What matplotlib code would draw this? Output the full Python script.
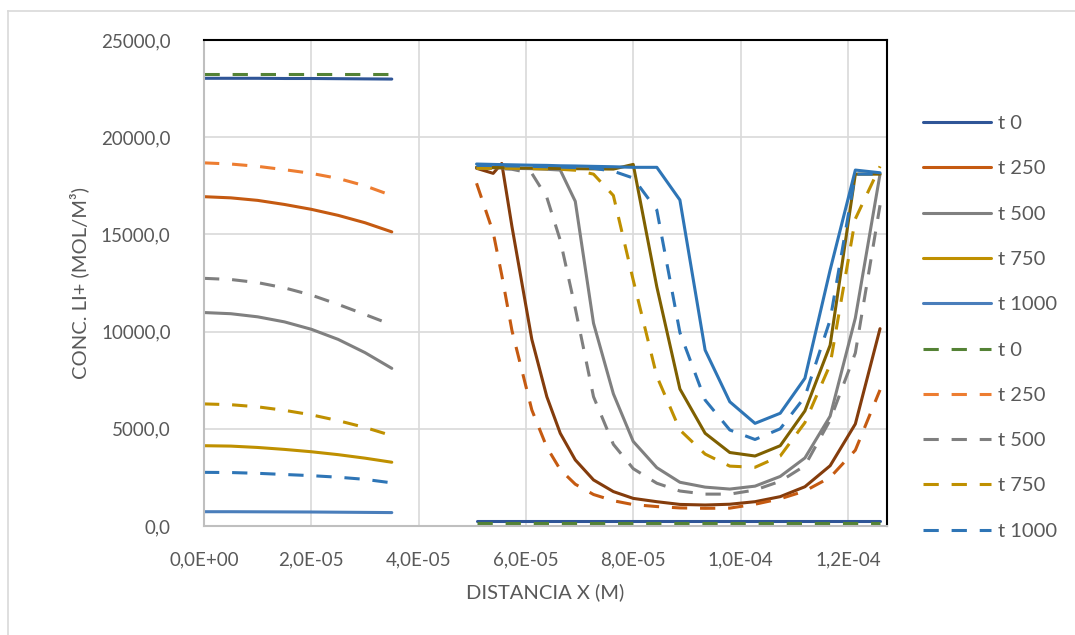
import matplotlib
matplotlib.use("Agg")
import matplotlib.pyplot as plt
from matplotlib.lines import Line2D
from matplotlib.ticker import FuncFormatter, MultipleLocator

plt.rcParams['font.family'] = ['Lato', 'DejaVu Sans']

# tiempos
labels = ["t 0", "t 250", "t 500", "t 750", "t 1000"]

# zona izquierda (0 - 3.5E-05 m)
x_izq = [0.0, 0.5e-5, 1.0e-5, 1.5e-5, 2.0e-5, 2.5e-5, 3.0e-5, 3.5e-5]
izq_sol = [
    [23030, 23030, 23030, 23020, 23020, 23010, 23000, 22990],
    [16940, 16880, 16750, 16540, 16290, 15980, 15600, 15130],
    [10980, 10920, 10760, 10500, 10120, 9600, 8920, 8110],
    [4130, 4110, 4040, 3940, 3820, 3670, 3490, 3280],
    [735, 735, 730, 725, 720, 710, 700, 690],
]
izq_dash = [
    [23230, 23230, 23230, 23230, 23230, 23230, 23230, 23230],
    [18680, 18620, 18500, 18330, 18140, 17880, 17500, 17000],
    [12740, 12680, 12520, 12250, 11880, 11400, 10880, 10350],
    [6280, 6240, 6130, 5950, 5720, 5420, 5070, 4650],
    [2760, 2750, 2710, 2650, 2590, 2510, 2400, 2220],
]

# zona derecha (5.1E-05 - 1.26E-04 m)
x_der = [5.08e-5, 5.39e-5, 5.55e-5, 5.74e-5, 6.11e-5, 6.39e-5, 6.64e-5,
         6.92e-5, 7.26e-5, 7.63e-5, 8.00e-5, 8.44e-5, 8.87e-5, 9.34e-5,
         9.80e-5, 10.27e-5, 10.74e-5, 11.20e-5, 11.67e-5, 12.14e-5, 12.60e-5]
der_sol = [
    [280, 280, 280, 280, 280, 280, 280, 280, 280, 280, 280,
     280, 280, 280, 280, 280, 280, 280, 280, 280, 280],
    [18400, 18140, 18650, 15400, 9600, 6650, 4770, 3400, 2370, 1770, 1420,
     1250, 1110, 1080, 1120, 1250, 1510, 2020, 3100, 5250, 10150],
    [18450, 18430, 18420, 18400, 18380, 18350, 18310, 16700, 10430, 6800, 4350,
     3000, 2250, 2000, 1900, 2050, 2550, 3500, 5650, 10700, 18100],
    [18450, 18440, 18430, 18420, 18410, 18400, 18390, 18380, 18370, 18360, 18600,
     12300, 7050, 4770, 3780, 3600, 4130, 5920, 9300, 18100, 18100],
    [18620, 18600, 18590, 18580, 18560, 18550, 18530, 18520, 18500, 18480, 18450,
     18450, 16770, 9050, 6390, 5280, 5800, 7600, 13170, 18310, 18170],
]
der_dash = [
    [170, 170, 170, 170, 170, 170, 170, 170, 170, 170, 170,
     170, 170, 170, 170, 170, 170, 170, 170, 170, 170],
    [17630, 15100, 12900, 10050, 5970, 4050, 2900, 2150, 1620, 1300, 1100,
     1000, 930, 910, 920, 1120, 1400, 1800, 2500, 3900, 7000],
    [18400, 18400, 18380, 18350, 18140, 16900, 14700, 11200, 6650, 4200, 2950,
     2200, 1800, 1640, 1640, 1850, 2300, 3100, 5450, 8900, 16500],
    [18400, 18400, 18400, 18400, 18380, 18370, 18350, 18300, 18100, 17000, 12650,
     7700, 4940, 3700, 3080, 3020, 3600, 5320, 8300, 15800, 18500],
    [18550, 18540, 18530, 18520, 18500, 18480, 18460, 18440, 18400, 18250, 17900,
     16250, 9950, 6480, 4940, 4450, 5000, 6650, 10600, 18100, 18100],
]

col_izq_sol = ['#2F5597', '#C55A11', '#808080', '#BF9000', '#4A7EBB']
col_izq_dash = ['#548235', '#ED7D31', '#7F7F7F', '#BF9000', '#2E75B6']
col_der_sol = ['#2F5597', '#843C0C', '#808080', '#7F6000', '#2E75B6']
col_der_dash = ['#548235', '#C55A11', '#7F7F7F', '#BF9000', '#2E75B6']

lw = 2.2
dash = (5, 4.2)

fig = plt.figure(figsize=(10.75, 6.35), dpi=100)
ax = fig.add_axes([204 / 1075, 1 - 526 / 635, 683 / 1075, 486 / 635])

handles = []
for i in range(5):
    h, = ax.plot(x_izq, izq_sol[i], color=col_izq_sol[i], lw=lw,
                 solid_capstyle='round', label=labels[i])
    handles.append(h)
for i in range(5):
    h, = ax.plot(x_izq, izq_dash[i], color=col_izq_dash[i], lw=lw,
                 dashes=dash, label=labels[i])
    handles.append(h)
for i in range(5):
    ax.plot(x_der, der_sol[i], color=col_der_sol[i], lw=lw, solid_capstyle='round')
for i in range(5):
    ax.plot(x_der, der_dash[i], color=col_der_dash[i], lw=lw, dashes=dash)

ax.set_xlim(0, 1.273e-4)
ax.set_ylim(0, 25000)
ax.xaxis.set_major_locator(MultipleLocator(2e-5))
ax.yaxis.set_major_locator(MultipleLocator(5000))
ax.xaxis.set_major_formatter(FuncFormatter(lambda v, p: "{:.1E}".format(v).replace('.', ',')))
ax.yaxis.set_major_formatter(FuncFormatter(lambda v, p: "{:.1f}".format(v).replace('.', ',')))
ax.grid(True, color='#D9D9D9', lw=1.2)
ax.set_axisbelow(True)
ax.tick_params(length=0, labelsize=13.5, labelcolor='#595959')
ax.tick_params(axis='y', pad=24)
ax.tick_params(axis='x', pad=18)
for s in ['left', 'bottom']:
    ax.spines[s].set_color('#BFBFBF')
    ax.spines[s].set_linewidth(1.5)
for s in ['top', 'right']:
    ax.spines[s].set_color('#000000')
    ax.spines[s].set_linewidth(1.5)

ax.set_ylabel("CONC. LI+ (MOL/M³)", fontsize=14.5, color='#595959')
ax.set_xlabel("DISTANCIA X (M)", fontsize=14.5, color='#595959')
ax.yaxis.set_label_coords(-0.168, 0.5)
ax.xaxis.set_label_coords(0.5, -0.118)

fig.legend(handles=handles, loc='upper left',
           bbox_to_anchor=(923 / 1075, 1 - 115 / 635),
           frameon=False, fontsize=14.5, labelcolor='#595959',
           handlelength=3.4, handletextpad=0.3, labelspacing=1.4,
           borderpad=0, borderaxespad=0)

# borde del grafico
fig.add_artist(Line2D([8 / 1075, 1.0], [1 - 11 / 635, 1 - 11 / 635],
                      color='#D9D9D9', lw=1.2))
fig.add_artist(Line2D([8 / 1075, 8 / 1075], [0.0, 1 - 11 / 635],
                      color='#D9D9D9', lw=1.2))

fig.savefig("out.png", dpi=100)
